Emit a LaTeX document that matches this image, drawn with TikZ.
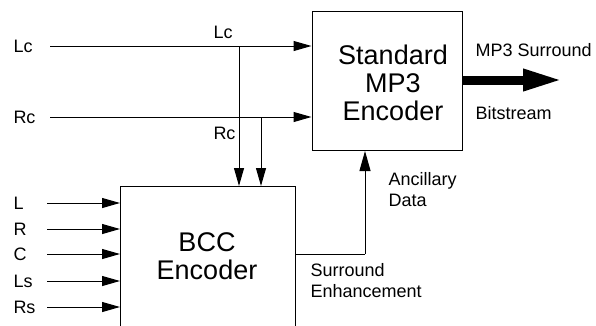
\documentclass[tikz,border=0pt]{standalone}
\usepackage{fontspec}
\setmainfont{Liberation Sans}
\usetikzlibrary{arrows.meta}
\begin{document}
\begin{tikzpicture}[x=1pt,y=-1pt,line width=1pt,node font=\fontsize{18}{21}\selectfont,
    sig/.style={-{Triangle[length=18pt,width=10pt]}},
    blk/.style={draw,inner sep=0pt},
    big/.style={align=center,node font=\fontsize{27}{28}\selectfont},
    lbl/.style={anchor=west,inner sep=2pt,align=left}]
        \clip (0,0) rectangle (596,325);
        % blocks
        \node [blk,minimum width=150pt,minimum height=139pt] (mp3) at (387,81) {};
        \node [big] (mp3text) at (393,83) {Standard\\MP3\\Encoder};
        \node [blk,minimum width=175pt,minimum height=180pt,anchor=north west] (bcc) at (120,186) {};
        \node [big] (bcctext) at (207,256) {BCC\\Encoder};
        % Lc and Rc
        \foreach \y/\name/\b/\ty in {46/Lc/239/32,117/Rc/261/133} {
            \node [lbl] (in\name) at (11,\y) {\name};
            \coordinate (s\name) at (50,\y);
            \draw [sig] (s\name) -- (s\name -| mp3.west);
            \coordinate (b\name) at (\b,\y);
            \draw [sig] (b\name) -- (b\name |- bcc.north);
            \node [lbl] (l\name) at (211,\ty) {\name};
        }
        % multichannel inputs
        \foreach \y/\name in {203/L,229/R,254/C,281/Ls,307/Rs} {
            \node [lbl] (in\name) at (11,\y) {\name};
            \coordinate (s\name) at (47,\y);
            \draw [sig] (s\name) -- (s\name -| bcc.west);
        }
        % ancillary data
        \coordinate (anc) at (365,254);
        \draw (bcc.east |- anc) -- (anc);
        \draw [-{Triangle[length=20pt,width=11pt]}] (anc) -- (anc |- mp3.south);
        \node [lbl] (ancl) at (386,190) {Ancillary\\Data};
        \node [lbl] (surl) at (308,281) {Surround\\Enhancement};
        % output
        \coordinate (out) at (563,80);
        \draw [line width=9pt,-{Triangle[length=40pt,width=20pt]}] (mp3.east |- out) -- (out);
        \node [lbl] (outa) at (473,50) {MP3 Surround};
        \node [lbl] (outb) at (473,113) {Bitstream};
\end{tikzpicture}
\end{document}
